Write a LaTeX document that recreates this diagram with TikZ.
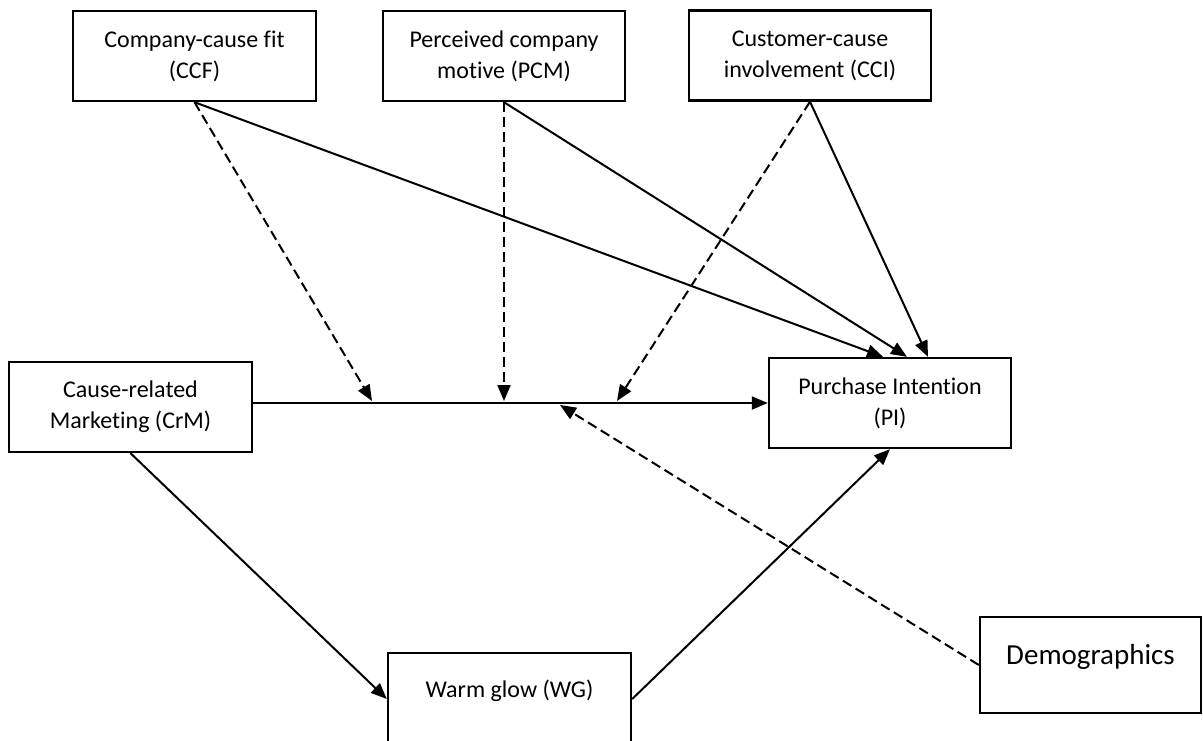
\documentclass[tikz,border=0pt]{standalone}
\usepackage{fontspec}
\setmainfont{Carlito}[Ligatures=NoCommon]
\usetikzlibrary{arrows.meta}
\begin{document}
\begin{tikzpicture}[x=1pt,y=-1pt,
  box/.style={draw, line width=2.4pt, align=center, inner sep=0pt,
    font=\fontsize{24}{31}\selectfont},
  arr/.style={line width=2pt, -{Triangle[length=16pt,width=13pt]}},
  darr/.style={arr, dash pattern=on 10pt off 5pt}]
\useasboundingbox (0,0) rectangle (1203,740);
\node[box, minimum width=243pt, minimum height=90pt] (CCF) at (194.5,56) {Company-cause fit\\(CCF)};
\node[box, minimum width=242pt, minimum height=90pt] (PCM) at (504,56) {Perceived company\\motive (PCM)};
\node[box, minimum width=242pt, minimum height=90pt] (CCI) at (810,55.5) {Customer-cause\\involvement (CCI)};
\node[box, minimum width=243pt, minimum height=90pt] (CrM) at (130.5,407) {Cause-related\\Marketing (CrM)};
\node[box, minimum width=242pt, minimum height=90pt] (PI) at (890,403) {Purchase Intention\\(PI)};
\node[box, minimum width=243pt, minimum height=92pt, text height=17pt, text depth=21pt] (WG) at (509.5,699) {Warm glow (WG)};
\node[box, minimum width=221pt, minimum height=96pt, text height=20pt, text depth=22pt,
  font=\fontsize{29}{35}\selectfont] (Dem) at (1090.5,665) {Demographics};
\coordinate (m1) at (372,401);
\coordinate (m2) at (504,401);
\coordinate (m3) at (617,401);
\coordinate (m4) at (560,405);
\draw[arr] (CrM.east |- PI.west) -- (PI.west);
\draw[darr] (CCF.south) -- (m1);
\draw[arr] (CCF.south) -- ([xshift=-7pt]PI.north);
\draw[darr] (PCM.south) -- (m2);
\draw[arr] (PCM.south) -- ([xshift=17pt]PI.north);
\draw[darr] (CCI.south) -- (m3);
\draw[arr] (CCI.south) -- ([xshift=38pt]PI.north);
\draw[darr] (Dem.west) -- (m4);
\draw[arr] (CrM.south) -- (WG.west);
\draw[arr] (WG.east) -- (PI.south);
\end{tikzpicture}
\end{document}
